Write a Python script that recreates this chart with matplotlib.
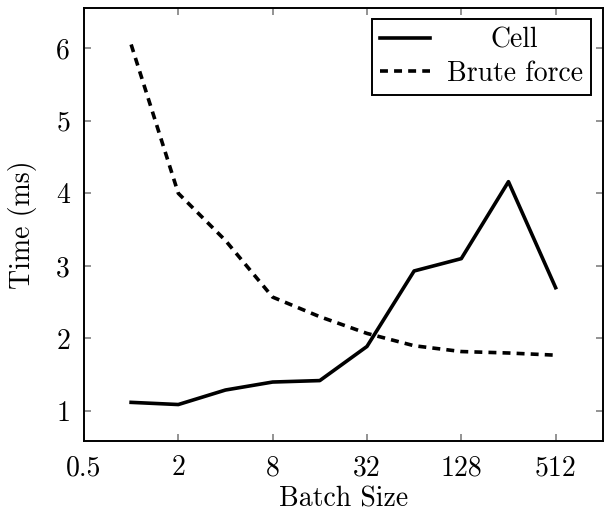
import matplotlib
matplotlib.use("Agg")
import matplotlib.pyplot as plt

plt.rcParams['font.family'] = 'serif'
plt.rcParams['font.serif'] = ['cmr10', 'DejaVu Serif']
plt.rcParams['mathtext.fontset'] = 'cm'
plt.rcParams['axes.formatter.use_mathtext'] = True

batch = [1, 2, 4, 8, 16, 32, 64, 128, 256, 512]
cell = [1.12, 1.09, 1.29, 1.40, 1.42, 1.89, 2.93, 3.10, 4.16, 2.70]
brute = [6.05, 4.00, 3.35, 2.57, 2.30, 2.07, 1.90, 1.82, 1.80, 1.77]
xticks = [0.5, 2, 8, 32, 128, 512]
xlabels = ['0.5', '2', '8', '32', '128', '512']
yticks = [1, 2, 3, 4, 5, 6]

fig = plt.figure(figsize=(6.04, 5.12), dpi=100)
ax = fig.add_axes([0.139, 0.139, 0.859, 0.845])

ax.plot(batch, cell, color='black', linewidth=2.6, label='Cell')
ax.plot(batch, brute, color='black', linewidth=2.6, linestyle=(0, (2.2, 1.7)), label='Brute force')

ax.set_xscale('log', base=2)
ax.set_xlim(0.5, 1024)
ax.set_ylim(0.59, 6.55)
ax.set_xticks(xticks)
ax.set_xticklabels(xlabels)
ax.minorticks_off()
ax.set_yticks(yticks)
ax.set_yticklabels([str(v) for v in yticks])

ax.tick_params(direction='in', length=5, width=1.2, color='#808080',
               top=True, right=True, labelsize=20, pad=10)
for s in ax.spines.values():
    s.set_linewidth(1.4)

ax.set_xlabel('Batch Size', fontsize=20, labelpad=4)
ax.set_ylabel('Time (ms)', fontsize=20, labelpad=14)

leg = ax.legend(loc='upper right', fontsize=20, frameon=True, fancybox=False,
                edgecolor='black', framealpha=1, handlelength=1.8,
                borderpad=0.3, labelspacing=0.25, handletextpad=0.6,
                borderaxespad=0, bbox_to_anchor=(0.977, 0.975))
leg.get_frame().set_linewidth(1.4)

# centre the shorter legend entry like the original
fig.canvas.draw()
r = fig.canvas.get_renderer()
texts = leg.get_texts()
w = [t.get_window_extent(r).width for t in texts]
texts[0].set_x((max(w) - w[0]) / 2)

fig.savefig('out.png', dpi=100)
